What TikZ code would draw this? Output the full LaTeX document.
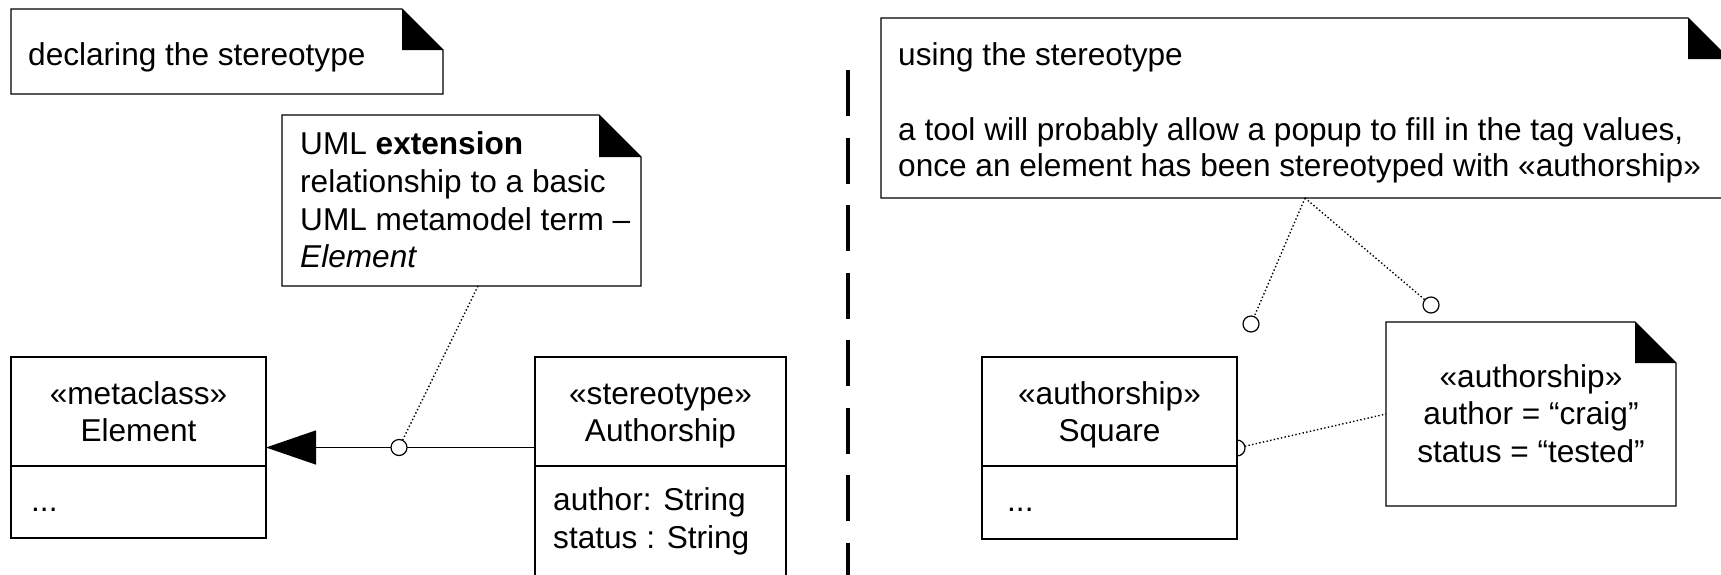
\documentclass[tikz,border=0pt]{standalone}
\usepackage{fontspec}
\setmainfont{Liberation Sans}
\usetikzlibrary{arrows.meta}

\newcommand\umlsize{\fontsize{31.6}{37.7}\selectfont}

% UML note: rectangle with a folded (black) top-right corner
\newcommand\drawnote[2]{%
  \draw[outline] (#1.north west) -- ([xshift=-#2]#1.north east)
    -- ([yshift=-#2]#1.north east) -- (#1.south east) -- (#1.south west) -- cycle;
  \fill[black] ([xshift=-#2]#1.north east) -- ([xshift=-#2,yshift=-#2]#1.north east)
    -- ([yshift=-#2]#1.north east) -- cycle;}

\begin{document}
\begin{tikzpicture}[x=1pt,y=1pt,
  outline/.style={draw=black, line width=1.3pt},
  frame/.style={rectangle, inner sep=0pt, outer sep=0pt, anchor=north west},
  classbox/.style={frame, outline, fill=white},
  notearea/.style={frame},
  lefttext/.style={inner sep=0pt, anchor=base west, font=\umlsize},
  midtext/.style={inner sep=0pt, anchor=base, font=\umlsize},
  anchorline/.style={line width=1.4pt, dash pattern=on 1.4pt off 2.3pt},
  lollipop/.style={circle, draw=black, line width=1.2pt, fill=white, minimum size=16pt, inner sep=0pt, outer sep=0pt},
  divider/.style={line width=3.3pt, dash pattern=on 46pt off 21.5pt},
]
\useasboundingbox (0,0) rectangle (1721,-574);
\clip (0,0) rectangle (1721,-574);
\fill[white] (0,0) rectangle (1721,-574);

% ---------------- declaring side ----------------
\node[notearea, minimum width=432pt, minimum height=85pt] (decl) at (11,-9) {};
\drawnote{decl}{41pt}
\node[lefttext] (declT) at (28,-65) {declaring the stereotype};

\node[notearea, minimum width=359pt, minimum height=171pt] (ext) at (282,-115) {};
\drawnote{ext}{42pt}
\node[lefttext] (extA) at (300,-154)   {UML \textbf{extension}};
\node[lefttext] (extB) at (300,-192.5) {relationship to a basic};
\node[lefttext] (extC) at (300,-230.5) {UML metamodel term –};
\node[lefttext] (extD) at (300,-267.5) {\itshape Element};

% metaclass Element
\node[classbox, minimum width=255pt, minimum height=181pt] (elem) at (11,-357) {};
\draw[outline] ([yshift=-109pt]elem.north west) -- ([yshift=-109pt]elem.north east);
\node[midtext] (elemS) at (138.5,-404) {«metaclass»};
\node[midtext] (elemN) at (138.5,-441) {Element};
\node[lefttext] (elemA) at (31,-511) {...};

% stereotype Authorship
\node[classbox, minimum width=251pt, minimum height=240pt] (auth) at (535,-357) {};
\draw[outline] ([yshift=-109pt]auth.north west) -- ([yshift=-109pt]auth.north east);
\node[midtext] (authS) at (660.5,-404) {«stereotype»};
\node[midtext] (authN) at (660.5,-441) {Authorship};
\node[lefttext] (authA) at (553,-510) {author: String};
\node[lefttext] (authB) at (553,-548) {status : String};

% extension relationship
\draw[line width=1.3pt, -{Triangle[length=50pt,width=34pt]}] (elem.east -| auth.west) -- (elem.east);
\coordinate (extfoot) at ([xshift=196pt]ext.south west);
\node[lollipop] (extport) at (399,-447.5) {};
\draw[anchorline] (extfoot) -- (extport);

% ---------------- separator ----------------
\coordinate (divtop) at (848,-70);
\coordinate (divbot) at (848,-580);
\draw[divider] (divtop) -- (divbot);

% ---------------- using side ----------------
\node[notearea, minimum width=848pt, minimum height=180pt] (use) at (881,-18) {};
\drawnote{use}{41pt}
\node[lefttext] (useA) at (898,-65)  {using the stereotype};
\node[lefttext] (useB) at (898,-140) {a tool will probably allow a popup to fill in the tag values,};
\node[lefttext] (useC) at (898,-176) {once an element has been stereotyped with «authorship»};

% stereotyped class Square
\node[classbox, minimum width=255pt, minimum height=182pt] (sq) at (982,-357) {};
\draw[outline] ([yshift=-109pt]sq.north west) -- ([yshift=-109pt]sq.north east);
\node[midtext] (sqS) at (1109.5,-404) {«authorship»};
\node[midtext] (sqN) at (1109.5,-441) {Square};
\node[lefttext] (sqA) at (1007,-511) {...};

% tagged values note
\node[notearea, minimum width=290pt, minimum height=184pt] (tag) at (1386,-322) {};
\drawnote{tag}{41pt}
\node[midtext] (tagS) at (1531,-387)   {«authorship»};
\node[midtext] (tagA) at (1531,-424.5) {author = “craig”};
\node[midtext] (tagB) at (1531,-462)   {status = “tested”};

% note anchors
\coordinate (usefoot) at ([xshift=424pt]use.south west);
\node[lollipop] (portA) at (1251,-324) {};
\node[lollipop] (portB) at (1431,-305) {};
\draw[anchorline] (usefoot) -- (portA);
\draw[anchorline] (usefoot) -- (portB);

\node[circle, minimum size=16pt, inner sep=0pt, outer sep=0pt] (portC) at (sq.east) {};
\draw[line width=1.2pt] (portC.south) arc[start angle=-90, end angle=90, radius=8pt];
\draw[anchorline] (portC) -- (tag.west);
\end{tikzpicture}
\end{document}
